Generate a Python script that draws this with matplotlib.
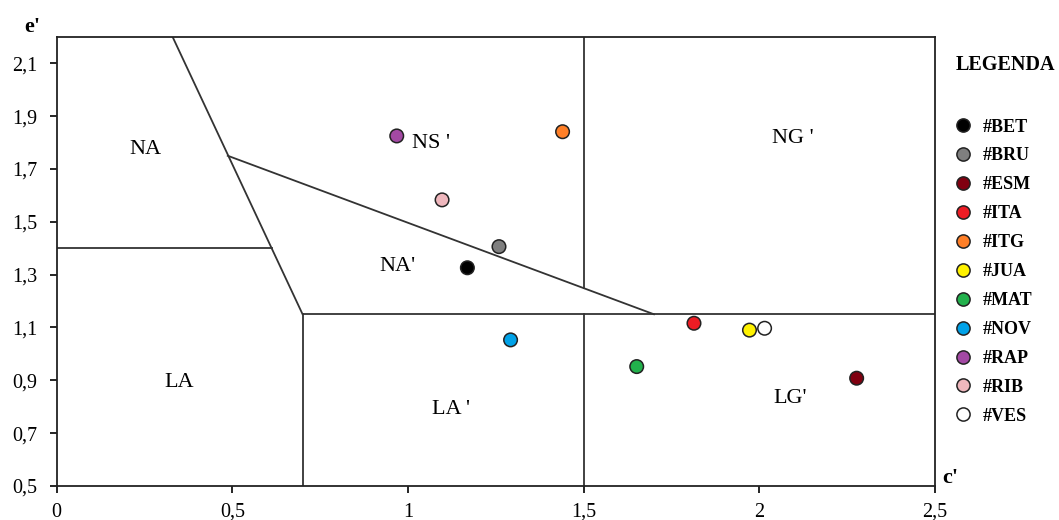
import matplotlib.pyplot as plt
from matplotlib.lines import Line2D

plt.rcParams['font.family'] = ['Liberation Serif', 'DejaVu Serif']

# -- data --
samples = ['#BET', '#BRU', '#ESM', '#ITA', '#ITG', '#JUA', '#MAT', '#NOV', '#RAP', '#RIB', '#VES']
c_vals = [1.169, 1.259, 2.277, 1.814, 1.440, 1.972, 1.651, 1.292, 0.968, 1.097, 2.015]
e_vals = [1.326, 1.406, 0.908, 1.116, 1.841, 1.090, 0.952, 1.053, 1.825, 1.583, 1.097]
colors = ['#000000', '#7f7f7f', '#800010', '#ed1c24', '#ff7f27', '#fff200',
          '#22b14c', '#00a2e8', '#a349a4', '#efb7bd', '#ffffff']

# boundary segments of the classification diagram (x pairs, y pairs)
boundaries = [
    ([0.33, 0.70], [2.20, 1.15]),
    ([0.00, 0.612], [1.40, 1.40]),
    ([0.487, 1.70], [1.75, 1.15]),
    ([1.50, 1.50], [1.25, 2.20]),
    ([1.50, 1.50], [0.50, 1.15]),
    ([0.70, 2.50], [1.15, 1.15]),
    ([0.70, 0.70], [0.50, 1.15]),
]

region_names = ['NA', "NS '", "NG '", "NA'", 'LA', "LA '", "LG'"]
region_x = [0.253, 1.065, 2.094, 0.970, 0.349, 1.122, 2.087]
region_y = [1.772, 1.797, 1.816, 1.330, 0.890, 0.788, 0.832]

x_ticks = [0, 0.5, 1, 1.5, 2, 2.5]
y_ticks = [0.5, 0.7, 0.9, 1.1, 1.3, 1.5, 1.7, 1.9, 2.1]

fig = plt.figure(figsize=(10.59, 5.2), dpi=100)
ax = fig.add_axes([0.0535, 0.0654, 0.8294, 0.8637])

for xs, ys in boundaries:
    ax.plot(xs, ys, color='#333333', lw=1.3, zorder=1)

for name, x, y in zip(region_names, region_x, region_y):
    ax.text(x, y, name, fontsize=16, ha='center', va='center')

ax.scatter(c_vals, e_vals, c=colors, s=95, edgecolors='#222222', linewidths=1.1, zorder=3)

ax.set_xlim(0, 2.5)
ax.set_ylim(0.5, 2.2)
ax.set_xticks(x_ticks)
ax.set_xticklabels([('%g' % t).replace('.', ',') for t in x_ticks])
ax.set_yticks(y_ticks)
ax.set_yticklabels([('%.1f' % t).replace('.', ',') for t in y_ticks])
ax.tick_params(direction='out', length=5, width=1.2, labelsize=14.5)
ax.tick_params(axis='x', pad=7)
ax.tick_params(axis='y', pad=9)
for sp in ax.spines.values():
    sp.set_linewidth(1.3)
    sp.set_color('#222222')

fig.text(0.030, 0.948, "e'", fontsize=16, fontweight='bold', ha='center', va='center')
fig.text(0.897, 0.081, "c'", fontsize=16, fontweight='bold', ha='center', va='center')

# -- legend --
fig.text(0.949, 0.875, 'LEGENDA', fontsize=14.5, fontweight='bold', ha='center', va='center')
handles = [Line2D([], [], ls='none', marker='o', markersize=9.5, markerfacecolor=c,
                  markeredgecolor='#222222', markeredgewidth=1.1) for c in colors]
leg = fig.legend(handles, samples, loc='upper left', bbox_to_anchor=(0.901, 0.772),
                 frameon=False, handletextpad=0.6, handlelength=1.0, labelspacing=0.66,
                 borderaxespad=0, borderpad=0,
                 prop={'family': 'Liberation Serif', 'weight': 'bold', 'size': 13})

fig.savefig('out.png', dpi=100)
